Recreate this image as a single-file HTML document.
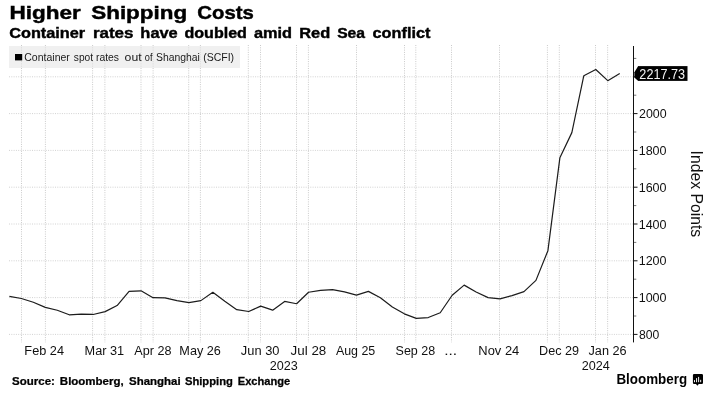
<!DOCTYPE html>
<html><head><meta charset="utf-8"><title>Higher Shipping Costs</title>
<style>
html,body{margin:0;padding:0;background:#fff;}
body{width:709px;height:406px;position:relative;overflow:hidden;font-family:"Liberation Sans",sans-serif;color:#000;}
svg{position:absolute;left:0;top:0;font-family:"Liberation Sans",sans-serif;will-change:transform;opacity:0.999;}
</style></head><body>
<svg width="709" height="406" viewBox="0 0 709 406">
<rect x="9" y="46" width="231" height="22" fill="#f0f0f0"/>
<line x1="21.5" y1="45" x2="21.5" y2="342.3" stroke="#cacaca" stroke-width="1" stroke-dasharray="1 1.3"/>
<line x1="45.4" y1="45" x2="45.4" y2="342.3" stroke="#cacaca" stroke-width="1" stroke-dasharray="1 1.3"/>
<line x1="92.6" y1="45" x2="92.6" y2="342.3" stroke="#cacaca" stroke-width="1" stroke-dasharray="1 1.3"/>
<line x1="104.9" y1="45" x2="104.9" y2="342.3" stroke="#cacaca" stroke-width="1" stroke-dasharray="1 1.3"/>
<line x1="141.0" y1="45" x2="141.0" y2="342.3" stroke="#cacaca" stroke-width="1" stroke-dasharray="1 1.3"/>
<line x1="153.1" y1="45" x2="153.1" y2="342.3" stroke="#cacaca" stroke-width="1" stroke-dasharray="1 1.3"/>
<line x1="188.7" y1="45" x2="188.7" y2="342.3" stroke="#cacaca" stroke-width="1" stroke-dasharray="1 1.3"/>
<line x1="200.4" y1="45" x2="200.4" y2="342.3" stroke="#cacaca" stroke-width="1" stroke-dasharray="1 1.3"/>
<line x1="248.3" y1="45" x2="248.3" y2="342.3" stroke="#cacaca" stroke-width="1" stroke-dasharray="1 1.3"/>
<line x1="260.5" y1="45" x2="260.5" y2="342.3" stroke="#cacaca" stroke-width="1" stroke-dasharray="1 1.3"/>
<line x1="296.5" y1="45" x2="296.5" y2="342.3" stroke="#cacaca" stroke-width="1" stroke-dasharray="1 1.3"/>
<line x1="308.4" y1="45" x2="308.4" y2="342.3" stroke="#cacaca" stroke-width="1" stroke-dasharray="1 1.3"/>
<line x1="356.5" y1="45" x2="356.5" y2="342.3" stroke="#cacaca" stroke-width="1" stroke-dasharray="1 1.3"/>
<line x1="404.5" y1="45" x2="404.5" y2="342.3" stroke="#cacaca" stroke-width="1" stroke-dasharray="1 1.3"/>
<line x1="415.8" y1="45" x2="415.8" y2="342.3" stroke="#cacaca" stroke-width="1" stroke-dasharray="1 1.3"/>
<line x1="451.5" y1="45" x2="451.5" y2="342.3" stroke="#cacaca" stroke-width="1" stroke-dasharray="1 1.3"/>
<line x1="499.5" y1="45" x2="499.5" y2="342.3" stroke="#cacaca" stroke-width="1" stroke-dasharray="1 1.3"/>
<line x1="547.4" y1="45" x2="547.4" y2="342.3" stroke="#cacaca" stroke-width="1" stroke-dasharray="1 1.3"/>
<line x1="559.3" y1="45" x2="559.3" y2="342.3" stroke="#cacaca" stroke-width="1" stroke-dasharray="1 1.3"/>
<line x1="595.5" y1="45" x2="595.5" y2="342.3" stroke="#cacaca" stroke-width="1" stroke-dasharray="1 1.3"/>
<line x1="607.65" y1="45" x2="607.65" y2="342.3" stroke="#cacaca" stroke-width="1" stroke-dasharray="1 1.3"/>
<line x1="9" y1="334.40" x2="633" y2="334.40" stroke="#d2d2d2" stroke-width="1" stroke-dasharray="1 1.3"/>
<line x1="9" y1="297.60" x2="633" y2="297.60" stroke="#d2d2d2" stroke-width="1" stroke-dasharray="1 1.3"/>
<line x1="9" y1="260.80" x2="633" y2="260.80" stroke="#d2d2d2" stroke-width="1" stroke-dasharray="1 1.3"/>
<line x1="9" y1="224.00" x2="633" y2="224.00" stroke="#d2d2d2" stroke-width="1" stroke-dasharray="1 1.3"/>
<line x1="9" y1="187.20" x2="633" y2="187.20" stroke="#d2d2d2" stroke-width="1" stroke-dasharray="1 1.3"/>
<line x1="9" y1="150.40" x2="633" y2="150.40" stroke="#d2d2d2" stroke-width="1" stroke-dasharray="1 1.3"/>
<line x1="9" y1="113.60" x2="633" y2="113.60" stroke="#d2d2d2" stroke-width="1" stroke-dasharray="1 1.3"/>
<line x1="9" y1="76.80" x2="633" y2="76.80" stroke="#d2d2d2" stroke-width="1" stroke-dasharray="1 1.3"/>
<line x1="633.5" y1="46" x2="633.5" y2="342.4" stroke="#111" stroke-width="1"/>
<line x1="634" y1="334.40" x2="637.5" y2="334.40" stroke="#111" stroke-width="1"/>
<line x1="634" y1="316.00" x2="636.3" y2="316.00" stroke="#777" stroke-width="1"/>
<line x1="634" y1="297.60" x2="637.5" y2="297.60" stroke="#111" stroke-width="1"/>
<line x1="634" y1="279.20" x2="636.3" y2="279.20" stroke="#777" stroke-width="1"/>
<line x1="634" y1="260.80" x2="637.5" y2="260.80" stroke="#111" stroke-width="1"/>
<line x1="634" y1="242.40" x2="636.3" y2="242.40" stroke="#777" stroke-width="1"/>
<line x1="634" y1="224.00" x2="637.5" y2="224.00" stroke="#111" stroke-width="1"/>
<line x1="634" y1="205.60" x2="636.3" y2="205.60" stroke="#777" stroke-width="1"/>
<line x1="634" y1="187.20" x2="637.5" y2="187.20" stroke="#111" stroke-width="1"/>
<line x1="634" y1="168.80" x2="636.3" y2="168.80" stroke="#777" stroke-width="1"/>
<line x1="634" y1="150.40" x2="637.5" y2="150.40" stroke="#111" stroke-width="1"/>
<line x1="634" y1="132.00" x2="636.3" y2="132.00" stroke="#777" stroke-width="1"/>
<line x1="634" y1="113.60" x2="637.5" y2="113.60" stroke="#111" stroke-width="1"/>
<line x1="634" y1="95.20" x2="636.3" y2="95.20" stroke="#777" stroke-width="1"/>
<line x1="634" y1="76.80" x2="637.5" y2="76.80" stroke="#111" stroke-width="1"/>
<line x1="634" y1="58.40" x2="636.3" y2="58.40" stroke="#777" stroke-width="1"/>
<polyline points="9.40,296.33 21.37,298.49 33.33,302.26 45.30,307.41 57.27,310.28 69.23,314.79 81.20,314.21 93.17,314.46 105.14,311.62 117.10,305.52 129.07,291.41 141.04,290.78 153.00,297.65 164.97,297.91 176.94,300.64 188.91,302.67 200.87,300.63 212.84,292.32 224.81,301.31 236.77,309.69 248.74,311.53 260.71,306.14 272.67,310.16 284.64,301.44 296.61,303.77 308.57,292.22 320.54,290.37 332.51,289.59 344.48,291.90 356.44,295.06 368.41,291.40 380.38,297.74 392.34,307.04 404.31,313.85 416.28,318.42 428.25,317.55 440.21,312.75 452.18,295.28 464.15,285.11 476.11,292.04 488.08,297.61 500.05,298.85 512.01,295.61 523.98,291.67 535.95,280.39 547.91,250.68 559.88,157.84 571.85,132.62 583.82,75.69 595.78,69.51 607.75,80.65 619.72,73.54" fill="none" stroke="#1c1c1c" stroke-width="1.2" stroke-linejoin="round" stroke-linecap="butt"/>
<rect x="9" y="46" width="231" height="22" fill="#f0f0f0" fill-opacity="0.4"/>
<rect x="15" y="54" width="7.2" height="6.4" fill="#000"/>
<polygon points="638.2,66.1 634.4,72.3 634.4,77.6 638.2,80.9" fill="#000"/>
<rect x="638" y="66.1" width="49.5" height="14.8" fill="#000"/>
<g><path d="M694.2 373.9h7.5a1.3 1.3 0 0 1 1.3 1.3v7.6a1.3 1.3 0 0 1-1.3 1.3h-2.9l-1.4 1.6-1.4-1.6h-1.8a1.3 1.3 0 0 1-1.3-1.3v-7.6a1.3 1.3 0 0 1 1.3-1.3z" fill="#000"/><rect x="694.05" y="380.1" width="0.95" height="2.1" fill="#fff"/><rect x="696.1" y="378.1" width="0.95" height="4.1" fill="#fff"/><rect x="698.15" y="376.9" width="0.95" height="5.3" fill="#fff"/><rect x="700.2" y="379.8" width="0.95" height="2.4" fill="#fff"/></g>
<text transform="translate(9.51,19.10) scale(1.1726,1.000)" font-size="19.2" font-weight="bold" fill="#000" stroke="#000" stroke-width="0.45">Higher</text>
<text transform="translate(91.27,19.10) scale(1.1670,1.000)" font-size="19.2" font-weight="bold" fill="#000" stroke="#000" stroke-width="0.45">Shipping</text>
<text transform="translate(197.37,19.10) scale(1.0602,1.000)" font-size="19.2" font-weight="bold" fill="#000" stroke="#000" stroke-width="0.45">Costs</text>
<text transform="translate(9.23,37.75) scale(1.1387,1.000)" font-size="14.3" font-weight="bold" fill="#000" stroke="#000" stroke-width="0.4">Container</text>
<text transform="translate(92.90,37.75) scale(1.1874,1.000)" font-size="14.3" font-weight="bold" fill="#000" stroke="#000" stroke-width="0.4">rates</text>
<text transform="translate(140.37,37.75) scale(1.1473,1.000)" font-size="14.3" font-weight="bold" fill="#000" stroke="#000" stroke-width="0.4">have</text>
<text transform="translate(184.44,37.75) scale(1.1245,1.000)" font-size="14.3" font-weight="bold" fill="#000" stroke="#000" stroke-width="0.4">doubled</text>
<text transform="translate(253.93,37.75) scale(1.1431,1.000)" font-size="14.3" font-weight="bold" fill="#000" stroke="#000" stroke-width="0.4">amid</text>
<text transform="translate(299.21,37.75) scale(1.1502,1.000)" font-size="14.3" font-weight="bold" fill="#000" stroke="#000" stroke-width="0.4">Red</text>
<text transform="translate(337.16,37.75) scale(1.0979,1.000)" font-size="14.3" font-weight="bold" fill="#000" stroke="#000" stroke-width="0.4">Sea</text>
<text transform="translate(372.56,37.75) scale(1.1392,1.000)" font-size="14.3" font-weight="bold" fill="#000" stroke="#000" stroke-width="0.4">conflict</text>
<text transform="translate(24.27,60.80) scale(1.0515,1.000)" font-size="10.0" fill="#1a1a1a">Container</text>
<text transform="translate(73.83,60.80) scale(1.0183,1.000)" font-size="10.0" fill="#1a1a1a">spot</text>
<text transform="translate(96.02,60.80) scale(1.0372,1.000)" font-size="10.0" fill="#1a1a1a">rates</text>
<text transform="translate(124.59,60.80) scale(1.2230,1.000)" font-size="10.0" fill="#1a1a1a">out</text>
<text transform="translate(144.81,60.80) scale(0.9194,1.000)" font-size="10.0" fill="#1a1a1a">of</text>
<text transform="translate(156.03,60.80) scale(1.0404,1.000)" font-size="10.0" fill="#1a1a1a">Shanghai</text>
<text transform="translate(203.15,60.80) scale(1.0532,1.000)" font-size="10.0" fill="#1a1a1a">(SCFI)</text>
<text transform="translate(12.08,385.10) scale(1.1389,1.000)" font-size="10.1" font-weight="bold" fill="#000" stroke="#000" stroke-width="0.25">Source:</text>
<text transform="translate(59.84,385.10) scale(1.1393,1.000)" font-size="10.1" font-weight="bold" fill="#000" stroke="#000" stroke-width="0.25">Bloomberg,</text>
<text transform="translate(129.08,385.10) scale(1.1356,1.000)" font-size="10.1" font-weight="bold" fill="#000" stroke="#000" stroke-width="0.25">Shanghai</text>
<text transform="translate(184.89,385.10) scale(1.1127,1.000)" font-size="10.1" font-weight="bold" fill="#000" stroke="#000" stroke-width="0.25">Shipping</text>
<text transform="translate(237.77,385.10) scale(1.1006,1.000)" font-size="10.1" font-weight="bold" fill="#000" stroke="#000" stroke-width="0.25">Exchange</text>
<text transform="translate(24.35,355.30) scale(1.0126,1.050)" font-size="12.6" fill="#111">Feb 24</text>
<text transform="translate(84.56,355.30) scale(1.0114,1.050)" font-size="12.6" fill="#111">Mar 31</text>
<text transform="translate(134.37,355.30) scale(1.0013,1.050)" font-size="12.6" fill="#111">Apr 28</text>
<text transform="translate(179.36,355.30) scale(1.0065,1.050)" font-size="12.6" fill="#111">May 26</text>
<text transform="translate(240.81,355.30) scale(1.0227,1.050)" font-size="12.6" fill="#111">Jun 30</text>
<text transform="translate(290.60,355.30) scale(1.0612,1.050)" font-size="12.6" fill="#111">Jul 28</text>
<text transform="translate(335.88,355.30) scale(0.9876,1.050)" font-size="12.6" fill="#111">Aug 25</text>
<text transform="translate(395.54,355.30) scale(0.9943,1.050)" font-size="12.6" fill="#111">Sep 28</text>
<text transform="translate(444.19,355.30) scale(1.2294,1.050)" font-size="12.6" fill="#111">...</text>
<text transform="translate(478.34,355.30) scale(1.0255,1.050)" font-size="12.6" fill="#111">Nov 24</text>
<text transform="translate(539.06,355.30) scale(1.0028,1.050)" font-size="12.6" fill="#111">Dec 29</text>
<text transform="translate(588.51,355.30) scale(1.0082,1.050)" font-size="12.6" fill="#111">Jan 26</text>
<text transform="translate(269.67,370.20) scale(1.0018,1.040)" font-size="12.6" fill="#111">2023</text>
<text transform="translate(581.77,370.20) scale(1.0027,1.040)" font-size="12.6" fill="#111">2024</text>
<text transform="translate(639.08,338.90) scale(0.9652,1.000)" font-size="12.6" fill="#111">800</text>
<text transform="translate(638.65,302.10) scale(0.9968,1.000)" font-size="12.6" fill="#111">1000</text>
<text transform="translate(638.65,265.30) scale(0.9968,1.000)" font-size="12.6" fill="#111">1200</text>
<text transform="translate(638.65,228.50) scale(0.9968,1.000)" font-size="12.6" fill="#111">1400</text>
<text transform="translate(638.65,191.70) scale(0.9968,1.000)" font-size="12.6" fill="#111">1600</text>
<text transform="translate(638.65,154.90) scale(0.9968,1.000)" font-size="12.6" fill="#111">1800</text>
<text transform="translate(638.98,118.10) scale(0.9846,1.000)" font-size="12.6" fill="#111">2000</text>
<text transform="translate(639.37,78.80) scale(0.9311,1.080)" font-size="13.6" fill="#f4f4f4">2217.73</text>
<text transform="translate(616.41,384.20) scale(0.9378,1.000)" font-size="14.3" font-weight="bold" fill="#000">Bloomberg</text>
<text transform="translate(691.2,150.55) rotate(90) scale(0.9837,1.07)" font-size="16.0" fill="#111">Index Points</text>
</svg>
</body></html>
